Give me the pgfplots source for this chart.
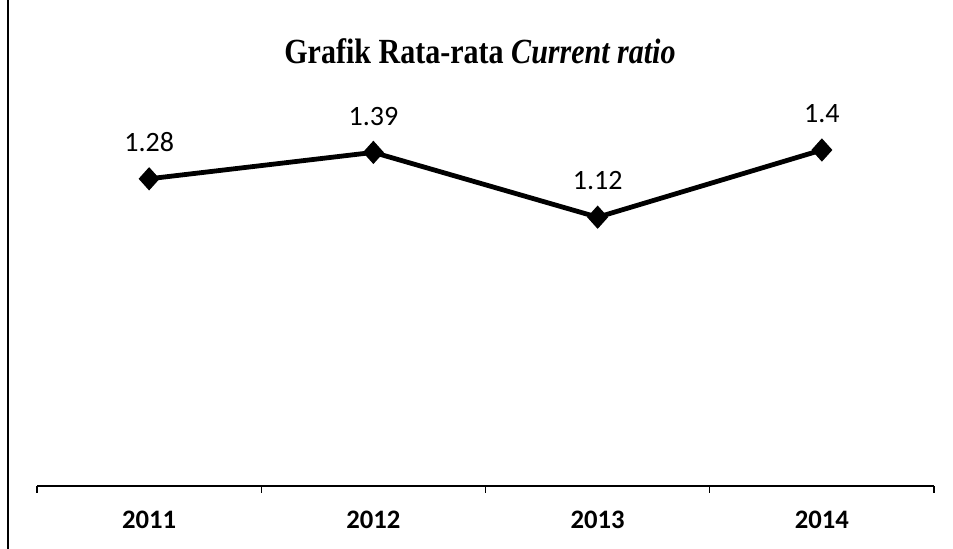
\documentclass[border=0pt]{standalone}
\usepackage{fontspec}
\setmainfont{Carlito}
\newfontfamily\titlefont[FakeStretch=0.85]{Liberation Serif}
\usepackage{pgfplots}
\pgfplotsset{compat=1.18}
\begin{document}
\begin{tikzpicture}[x=1pt,y=1pt]
\path[use as bounding box] (0,0) rectangle (714.75pt,411.75pt);
\draw[line width=1.5pt] (6pt,0) -- (6pt,411.75pt);
\begin{axis}[
  at={(27.75pt,47.25pt)}, anchor=south west,
  scale only axis, width=672.75pt, height=288pt,
  xmin=-0.5, xmax=3.5, ymin=0, ymax=1.6,
  hide y axis,
  axis x line=bottom,
  axis line style={-, line width=1.1pt},
  xtick={0,1,2,3},
  xticklabels={2011,2012,2013,2014},
  minor xtick={-0.5,0.5,1.5,2.5,3.5},
  major tick length=0pt,
  minor tick length=5.25pt,
  tick align=outside,
  tick style={line width=1.1pt, black},
  xticklabel style={font=\fontsize{20}{24}\selectfont\bfseries, yshift=-15.5pt},
  clip=false,
  nodes near coords,
  point meta=explicit symbolic,
  nodes near coords style={font=\fontsize{21}{24}\selectfont, anchor=base, inner sep=0pt, yshift=20.5pt},
]
\addplot[black, line width=3.6pt, mark=diamond*, mark size=8pt, mark options={xscale=1.2, line width=1pt}] coordinates {
  (0,1.28) [1.28]
  (1,1.39) [1.39]
  (2,1.12) [1.12]
  (3,1.40) [1.4]
};
\end{axis}
\node[anchor=base, inner sep=0pt, font=\titlefont\fontsize{26.5}{30}\selectfont\bfseries] at (360pt,364pt) {Grafik Rata-rata \textit{Current ratio}};
\end{tikzpicture}
\end{document}
